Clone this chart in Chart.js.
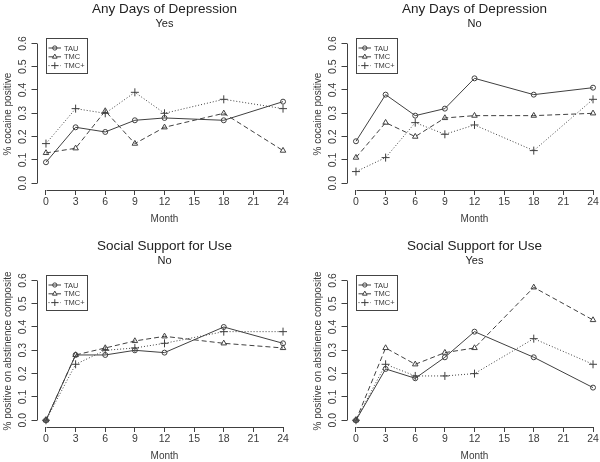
<!DOCTYPE html>
<html>
<head>
<meta charset="utf-8">
<script src="https://cdn.jsdelivr.net/npm/chart.js@4.4.1/dist/chart.umd.min.js"></script>
<style>
  html, body { margin: 0; padding: 0; background: #fff; overflow: hidden; width: 600px; height: 462px; }
  canvas { position: absolute; }
</style>
</head>
<body>
<canvas id="p1" width="300" height="225" style="left:0;top:0;width:300px;height:225px"></canvas>
<canvas id="p2" width="300" height="225" style="left:310px;top:0;width:300px;height:225px"></canvas>
<canvas id="p3" width="300" height="225" style="left:0;top:237px;width:300px;height:225px"></canvas>
<canvas id="p4" width="300" height="225" style="left:310px;top:237px;width:300px;height:225px"></canvas>
<script>
  // --- data ---
  var months = [0, 3, 6, 9, 12, 18, 24];
  var xTicks = [0, 3, 6, 9, 12, 15, 18, 21, 24];
  var yTicks = [0, 0.1, 0.2, 0.3, 0.4, 0.5, 0.6];
  var seriesNames = ['TAU', 'TMC', 'TMC+'];

  var depYesTAU  = [0.09, 0.24, 0.22, 0.27, 0.28, 0.27, 0.35];
  var depYesTMC  = [0.13, 0.15, 0.31, 0.17, 0.24, 0.30, 0.14];
  var depYesTMCp = [0.17, 0.32, 0.30, 0.39, 0.30, 0.36, 0.32];

  var depNoTAU   = [0.18, 0.38, 0.29, 0.32, 0.45, 0.38, 0.41];
  var depNoTMC   = [0.11, 0.26, 0.20, 0.28, 0.29, 0.29, 0.30];
  var depNoTMCp  = [0.05, 0.11, 0.26, 0.21, 0.25, 0.14, 0.36];

  var supNoTAU   = [0.00, 0.28, 0.28, 0.30, 0.29, 0.40, 0.33];
  var supNoTMC   = [0.00, 0.28, 0.31, 0.34, 0.36, 0.33, 0.31];
  var supNoTMCp  = [0.00, 0.24, 0.30, 0.31, 0.33, 0.38, 0.38];

  var supYesTAU  = [0.00, 0.22, 0.18, 0.27, 0.38, 0.27, 0.14];
  var supYesTMC  = [0.00, 0.31, 0.24, 0.29, 0.31, 0.57, 0.43];
  var supYesTMCp = [0.00, 0.24, 0.19, 0.19, 0.20, 0.35, 0.24];

  // --- look ---
  var FONT = "'Liberation Sans', Arial, Helvetica, sans-serif";
  var ink = '#404040';
  var textInk = '#3a3a3a';
  var dashes  = [[], [5, 3], [1, 2]];
  var markers = ['circle', 'triangle', 'cross'];
  var radii   = [2.5, 3.2, 4];

  /* R-style axis lines (only from first to last tick) + boxed legend in the top-left */
  var rAxesPlugin = {
    id: 'rAxes',
    afterDraw: function (chart) {
      var ctx = chart.ctx, ca = chart.chartArea;
      var xs = chart.scales.x, ys = chart.scales.y;
      ctx.save();
      ctx.strokeStyle = ink;
      ctx.lineWidth = 1;
      ctx.setLineDash([]);
      var yb = Math.round(ca.bottom) + 0.5, xl = Math.round(ca.left) + 0.5;
      ctx.beginPath();
      ctx.moveTo(Math.round(xs.getPixelForValue(xTicks[0])) + 0.5, yb);
      ctx.lineTo(Math.round(xs.getPixelForValue(xTicks[xTicks.length - 1])) + 0.5, yb);
      ctx.moveTo(xl, Math.round(ys.getPixelForValue(yTicks[0])) + 0.5);
      ctx.lineTo(xl, Math.round(ys.getPixelForValue(yTicks[yTicks.length - 1])) + 0.5);
      ctx.stroke();

      // legend
      var bx = Math.round(ca.left + 9) + 0.5, by = Math.round(ca.top) + 0.5;
      ctx.strokeStyle = '#444';
      ctx.strokeRect(bx, by, 41, 35);
      ctx.font = '7.5px ' + FONT;
      ctx.textBaseline = 'middle';
      ctx.textAlign = 'left';
      chart.data.datasets.forEach(function (ds, i) {
        var ry = by + 9.5 + i * 8.8;
        ctx.strokeStyle = ink;
        ctx.setLineDash(ds.borderDash);
        ctx.beginPath();
        ctx.moveTo(bx + 2, ry);
        ctx.lineTo(bx + 14.5, ry);
        ctx.stroke();
        ctx.setLineDash([]);
        ctx.fillStyle = 'rgba(0,0,0,0)';
        Chart.helpers.drawPoint(ctx, {
          pointStyle: ds.pointStyle, radius: ds.pointRadius * 0.85, rotation: 0, borderWidth: 1
        }, bx + 8.3, ry);
        ctx.fillStyle = textInk;
        ctx.fillText(ds.label, bx + 17.5, ry + 0.5);
      });
      ctx.restore();
    }
  };

  function makePanel(id, title, sub, yTitle, values) {
    var datasets = seriesNames.map(function (name, i) {
      return {
        label: name,
        data: months.map(function (m, j) { return { x: m, y: values[i][j] }; }),
        borderColor: ink,
        borderWidth: 1,
        borderDash: dashes[i],
        pointStyle: markers[i],
        pointRadius: radii[i],
        pointBorderColor: ink,
        pointBackgroundColor: 'rgba(0,0,0,0)',
        pointBorderWidth: 1,
        fill: false,
        tension: 0
      };
    });
    var tickFont = { family: FONT, size: 10.5 };
    return new Chart(document.getElementById(id), {
      type: 'line',
      data: { datasets: datasets },
      options: {
        responsive: false,
        animation: false,
        layout: { padding: { left: 0, right: 7.5, top: 0, bottom: 0 } },
        scales: {
          x: {
            type: 'linear', min: -0.96, max: 24.96,
            afterBuildTicks: function (s) { s.ticks = xTicks.map(function (v) { return { value: v }; }); },
            afterFit: function (s) { s.height = 35; },
            border: { display: false },
            grid: { drawOnChartArea: false, drawTicks: true, tickLength: 5, color: ink },
            ticks: { font: tickFont, color: textInk, padding: 1, maxRotation: 0, autoSkip: false },
            title: { display: true, text: 'Month', font: { family: FONT, size: 10 }, color: textInk, padding: 0 }
          },
          y: {
            min: -0.029, max: 0.623,
            afterBuildTicks: function (s) { s.ticks = yTicks.map(function (v) { return { value: v }; }); },
            afterFit: function (s) { s.width = 36.5; },
            border: { display: false },
            grid: { drawOnChartArea: false, drawTicks: true, tickLength: 5, color: ink },
            ticks: {
              font: tickFont, color: textInk, padding: 1, minRotation: 90, maxRotation: 90,
              crossAlign: 'center', autoSkip: false,
              callback: function (v) { return Number(v).toFixed(1); }
            },
            title: { display: true, text: yTitle, font: { family: FONT, size: 10 }, color: textInk, padding: { top: 2, bottom: 0 } }
          }
        },
        plugins: {
          legend: { display: false },
          tooltip: { enabled: false },
          title: {
            display: true, text: title, fullSize: false, color: '#222',
            font: { family: FONT, size: 13.5, weight: 'normal', lineHeight: '16px' },
            padding: { top: 1, bottom: 0 }
          },
          subtitle: {
            display: true, text: sub, fullSize: false, color: '#222',
            font: { family: FONT, size: 11, weight: 'normal', lineHeight: '13px' },
            padding: { top: 0, bottom: 8 }
          }
        }
      },
      plugins: [rAxesPlugin]
    });
  }

  makePanel('p1', 'Any Days of Depression', 'Yes', '% cocaine positive',
    [depYesTAU, depYesTMC, depYesTMCp]);
  makePanel('p2', 'Any Days of Depression', 'No', '% cocaine positive',
    [depNoTAU, depNoTMC, depNoTMCp]);
  makePanel('p3', 'Social Support for Use', 'No', '% positive on abstinence composite',
    [supNoTAU, supNoTMC, supNoTMCp]);
  makePanel('p4', 'Social Support for Use', 'Yes', '% positive on abstinence composite',
    [supYesTAU, supYesTMC, supYesTMCp]);
</script>
</body>
</html>
